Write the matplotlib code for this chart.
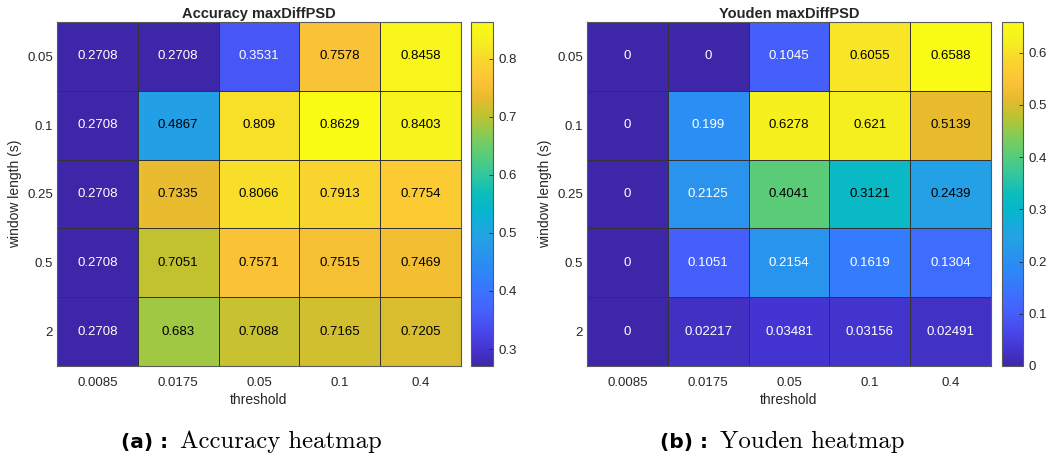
import numpy as np
import matplotlib
matplotlib.use('Agg')
from matplotlib import pyplot as plt
from matplotlib.colors import LinearSegmentedColormap
from matplotlib.ticker import FuncFormatter

# data
thresholds = ['0.0085', '0.0175', '0.05', '0.1', '0.4']
windows = ['0.05', '0.1', '0.25', '0.5', '2']

accuracy = np.array([
    [0.2708, 0.2708, 0.3531, 0.7578, 0.8458],
    [0.2708, 0.4867, 0.809, 0.8629, 0.8403],
    [0.2708, 0.7335, 0.8066, 0.7913, 0.7754],
    [0.2708, 0.7051, 0.7571, 0.7515, 0.7469],
    [0.2708, 0.683, 0.7088, 0.7165, 0.7205],
])
youden = np.array([
    [0, 0, 0.1045, 0.6055, 0.6588],
    [0, 0.199, 0.6278, 0.621, 0.5139],
    [0, 0.2125, 0.4041, 0.3121, 0.2439],
    [0, 0.1051, 0.2154, 0.1619, 0.1304],
    [0, 0.02217, 0.03481, 0.03156, 0.02491],
])

# MATLAB parula, subsampled
parula_pts = [
    (0.2422, 0.1504, 0.6603), (0.2706, 0.2147, 0.8364), (0.2813, 0.3006, 0.9414),
    (0.2699, 0.3892, 0.9906), (0.2206, 0.4603, 0.9973), (0.1786, 0.5289, 0.9682),
    (0.1540, 0.5902, 0.9218), (0.1248, 0.6459, 0.8883), (0.0297, 0.7082, 0.8163),
    (0.0433, 0.7411, 0.7394), (0.1938, 0.7758, 0.6251), (0.3406, 0.8008, 0.4789),
    (0.5044, 0.7993, 0.3480), (0.7242, 0.7698, 0.1910), (0.9035, 0.7330, 0.1774),
    (0.9970, 0.7659, 0.2199), (0.9786, 0.8386, 0.1766), (0.9628, 0.9373, 0.1265),
    (0.9769, 0.9839, 0.0805),
]
parula = LinearSegmentedColormap.from_list('parula', parula_pts)

plt.rcParams['font.family'] = ['Liberation Sans', 'DejaVu Sans']
txt = '#262626'


def fmt(v):
    return '0' if v == 0 else '{:.4g}'.format(v)


def heat(fig, rect, cbrect, data, title, ticks):
    ax = fig.add_axes(rect)
    vmin, vmax = data.min(), data.max()
    im = ax.pcolormesh(data, cmap=parula, vmin=vmin, vmax=vmax,
                       edgecolor='#333333', linewidth=0.6)
    ax.invert_yaxis()
    ax.set_xticks(np.arange(len(thresholds)) + 0.5, thresholds)
    ax.set_yticks(np.arange(len(windows)) + 0.5, windows)
    ax.tick_params(length=0, labelsize=9.5, colors=txt)
    ax.tick_params(axis='x', pad=8)
    ax.tick_params(axis='y', pad=3)
    ax.set_xlabel('threshold', fontsize=10, color=txt, labelpad=3)
    ax.set_ylabel('window length (s)', fontsize=10, color=txt, labelpad=4)
    ax.set_title(title, fontsize=10.5, fontweight='bold', color=txt, pad=3)
    for s in ax.spines.values():
        s.set_color('#5a5a5a')
        s.set_linewidth(0.8)
    for i in range(data.shape[0]):
        for j in range(data.shape[1]):
            r, g, b, _ = parula((data[i, j] - vmin) / (vmax - vmin))
            lum = 0.2126 * r + 0.7152 * g + 0.0722 * b
            ax.text(j + 0.5, i + 0.5, fmt(data[i, j]), ha='center', va='center',
                    fontsize=9.5, color='black' if lum > 0.53 else 'white')
    cax = fig.add_axes(cbrect)
    cb = fig.colorbar(im, cax=cax, ticks=ticks)
    cb.formatter = FuncFormatter(lambda v, p: '{:g}'.format(round(v, 3)))
    cb.update_ticks()
    cb.outline.set_edgecolor('#5a5a5a')
    cb.outline.set_linewidth(0.8)
    cax.tick_params(direction='in', length=3, width=0.6, labelsize=9.5,
                    colors=txt, pad=4)
    return ax


fig = plt.figure(figsize=(10.48, 4.57), dpi=100)
H = 1048.0
V = 457.0
bot = 1 - 366 / V
hgt = 344 / V
heat(fig, [57 / H, bot, 404 / H, hgt], [471 / H, bot, 22 / H, hgt],
     accuracy, 'Accuracy maxDiffPSD', [0.3, 0.4, 0.5, 0.6, 0.7, 0.8])
heat(fig, [587 / H, bot, 404 / H, hgt], [1002 / H, bot, 21 / H, hgt],
     youden, 'Youden maxDiffPSD', [0, 0.1, 0.2, 0.3, 0.4, 0.5, 0.6])

# sub-captions: bold label then serif text
fig.canvas.draw()
rend = fig.canvas.get_renderer()
for x0, lab, cap in [(121, '(a) :', 'Accuracy heatmap'),
                     (660, '(b) :', 'Youden heatmap')]:
    t = fig.text(x0 / H, 1 - 448 / V, lab, fontsize=14.5, fontweight='bold',
                 family='DejaVu Sans', va='baseline', color='black')
    ext = t.get_window_extent(rend)
    fig.text((ext.x1 + 12) / H, 1 - 448 / V, cap, fontsize=17.8, family='cmr10',
             va='baseline', color='black')

fig.savefig('out.png', dpi=100)
